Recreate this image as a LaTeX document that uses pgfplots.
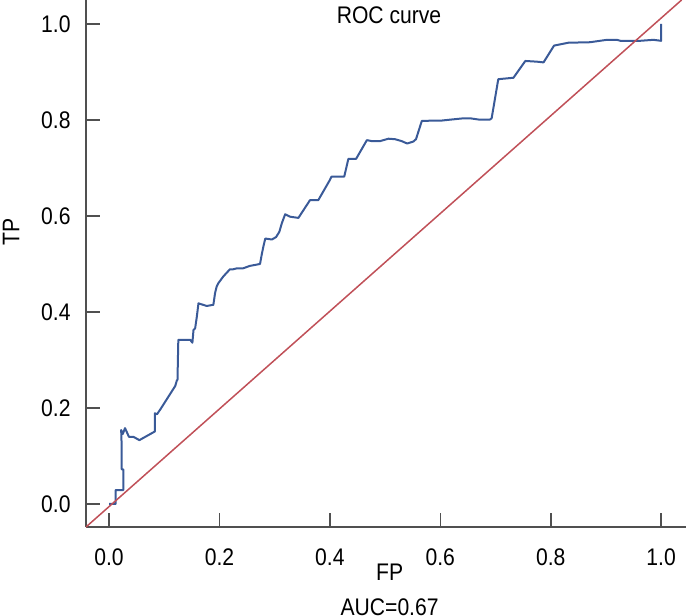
\documentclass[border=0pt]{standalone}
\usepackage{fontspec}
\setmainfont{Liberation Sans}[FakeStretch=0.88]
\usepackage{pgfplots}
\pgfplotsset{compat=1.18}
\definecolor{rocblue}{RGB}{58,90,152}
\definecolor{diagred}{RGB}{192,80,88}
\definecolor{axisgray}{RGB}{80,80,80}
\newcommand{\lbl}{\fontsize{12}{14}\selectfont}

\begin{document}
\begin{tikzpicture}
\useasboundingbox (-43pt,-44.5pt) rectangle (300pt,263.5pt);
\begin{axis}[
    at={(0,0)}, anchor=south west,
    scale only axis,
    width=300pt, height=263.5pt,
    xmin=-0.0417, xmax=1.045,
    ymin=-0.048, ymax=1.05,
    axis x line*=bottom, axis y line*=left,
    axis line style={axisgray, line width=1pt, -},
    xtick={0,0.2,0.4,0.6,0.8,1},
    xticklabels={0.0,0.2,0.4,0.6,0.8,1.0},
    ytick={0,0.2,0.4,0.6,0.8,1},
    yticklabels={0.0,0.2,0.4,0.6,0.8,1.0},
    tick align=inside,
    major tick length=7pt,
    tick style={axisgray, line width=0.8pt},
    xticklabel style={font=\lbl, inner sep=0pt, anchor=north, yshift=-10.75pt},
    yticklabel style={font=\lbl, inner sep=0pt, anchor=east, xshift=-7.5pt},
    xlabel={FP\\[3.5pt]AUC=0.67},
    xlabel style={align=center, at={(axis description cs:0.506,0)}, anchor=north, yshift=-18.5pt, inner sep=0pt, font=\lbl},
    ylabel={TP},
    ylabel style={at={(axis description cs:-0.125,0.56)}, anchor=center, inner sep=0pt, font=\lbl},
]

\addplot[rocblue, line width=1pt, line join=round] coordinates {
    (0,0)(0.012,0)(0.012,0.029)(0.026,0.029)(0.026,0.072)(0.023,0.072)
    (0.023,0.117)(0.022,0.154)(0.025,0.146)(0.029,0.158)(0.036,0.140)
    (0.044,0.140)(0.055,0.133)(0.083,0.151)(0.083,0.189)(0.087,0.187)
    (0.094,0.199)(0.120,0.246)(0.123,0.258)(0.124,0.258)(0.1255,0.342)
    (0.147,0.342)(0.151,0.336)(0.153,0.3625)(0.156,0.366)(0.159,0.390)
    (0.162,0.418)(0.177,0.4125)(0.189,0.415)(0.192,0.439)(0.195,0.453)
    (0.198,0.460)(0.207,0.474)(0.219,0.489)(0.225,0.489)(0.232,0.491)
    (0.243,0.491)(0.255,0.496)(0.2735,0.500)(0.2765,0.519)(0.2795,0.536)
    (0.283,0.553)(0.295,0.551)(0.3025,0.556)(0.3085,0.567)(0.313,0.585)
    (0.319,0.6035)(0.328,0.5985)(0.343,0.596)(0.364,0.633)(0.379,0.633)
    (0.400,0.675)(0.403,0.682)(0.426,0.682)(0.4335,0.719)(0.4475,0.719)
    (0.467,0.758)(0.476,0.756)(0.491,0.756)(0.506,0.761)(0.518,0.760)
    (0.530,0.756)(0.540,0.751)(0.551,0.755)(0.556,0.760)(0.5665,0.798)
    (0.5815,0.7985)(0.600,0.7985)(0.612,0.800)(0.642,0.8035)(0.654,0.8035)
    (0.669,0.801)(0.690,0.801)(0.693,0.8035)(0.705,0.885)(0.7325,0.888)
    (0.754,0.923)(0.775,0.9215)(0.787,0.920)(0.806,0.955)(0.832,0.961)
    (0.871,0.962)(0.9016,0.967)(0.920,0.967)(0.926,0.965)(0.962,0.965)
    (0.986,0.967)(1.0,0.965)(1.0,1.0)
};

\addplot[diagred, line width=0.75pt] coordinates {(-0.0417,-0.048)(1.037,1.05)};

\node[anchor=north, inner sep=0pt, font=\lbl] at (axis description cs:0.505,0.9886) {ROC curve};

\end{axis}
\end{tikzpicture}
\end{document}
